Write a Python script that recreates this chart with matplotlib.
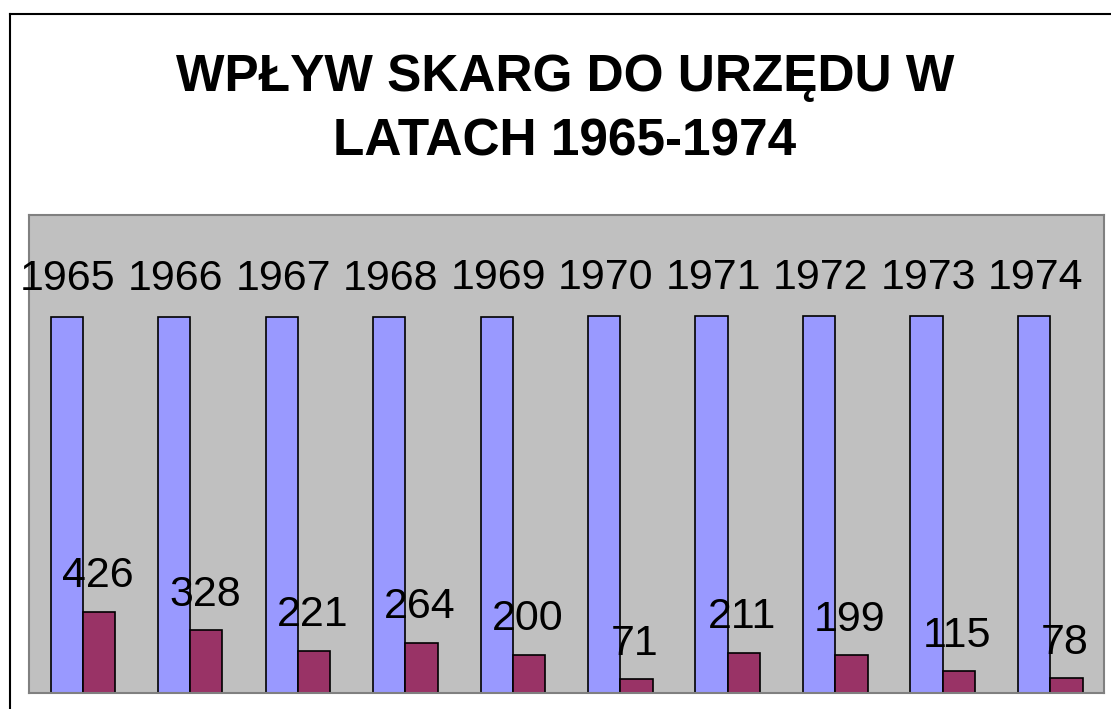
import matplotlib
matplotlib.use("Agg")
import matplotlib.pyplot as plt
import numpy as np
from matplotlib.lines import Line2D

plt.rcParams['font.family'] = ['Liberation Sans', 'DejaVu Sans']

# data
years = [1965, 1966, 1967, 1968, 1969, 1970, 1971, 1972, 1973, 1974]
skargi = [426, 328, 221, 264, 200, 71, 211, 199, 115, 78]

W, H = 1111, 709
fig = plt.figure(figsize=(W / 100, H / 100), dpi=100)

# chart area frame (runs off the right and bottom edge)
fig.add_artist(Line2D([10 / W, 10 / W], [0, 1 - 14 / H], color='black', lw=1.5))
fig.add_artist(Line2D([10 / W, 1], [1 - 14 / H, 1 - 14 / H], color='black', lw=1.5))

ax = fig.add_axes([29 / W, 16 / H, 1075 / W, 478 / H])
ax.set_facecolor('#C0C0C0')
for s in ax.spines.values():
    s.set_color('#808080')
    s.set_linewidth(1.5)

x = np.arange(len(years))
bw = 0.3
ax.bar(x - bw / 2, years, bw, color='#9999FF', edgecolor='black', linewidth=1.2)
ax.bar(x + bw / 2, skargi, bw, color='#993366', edgecolor='black', linewidth=1.2)

for xi, v in zip(x, years):
    ax.annotate(str(v), (xi - bw / 2, v), xytext=(1, 13), textcoords='offset points',
                ha='center', va='bottom', fontsize=31)
for xi, v in zip(x, skargi):
    ax.annotate(str(v), (xi + bw / 2, v), xytext=(-1, 11), textcoords='offset points',
                ha='center', va='bottom', fontsize=31)

ax.set_xlim(-0.5, len(years) - 0.5)
ax.set_ylim(0, 2500)
ax.set_xticks([])
ax.set_yticks([])

fig.text(565 / W, 1 - 110 / H, 'WPŁYW SKARG DO URZĘDU W\nLATACH 1965-1974',
         ha='center', va='center', fontsize=37, fontweight='bold', linespacing=1.4)

plt.savefig('out.png', dpi=100)
